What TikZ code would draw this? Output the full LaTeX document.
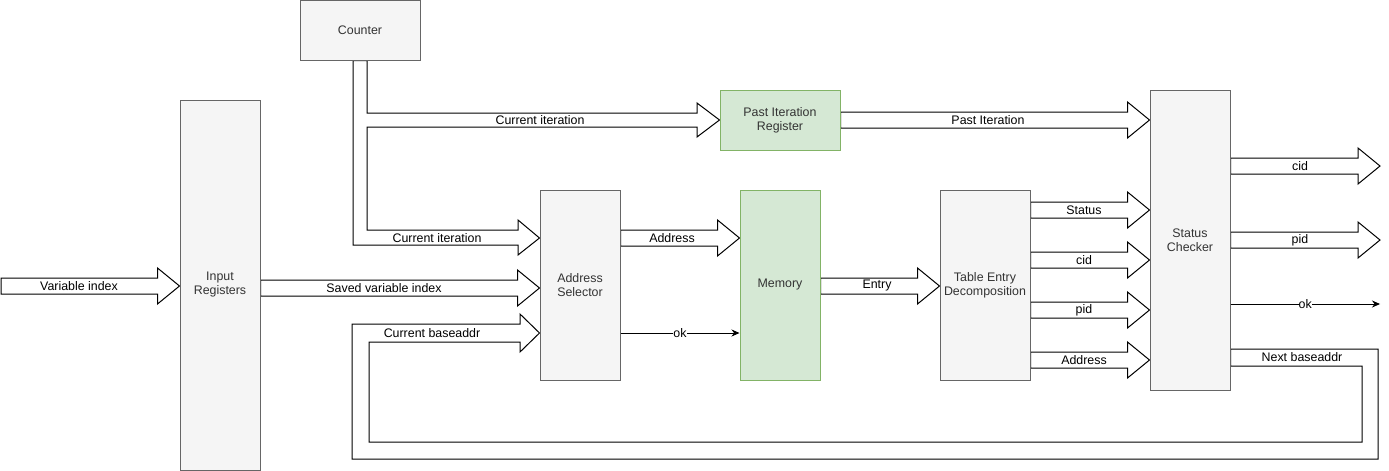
\documentclass[tikz,border=0pt]{standalone}
\usepackage{fontspec}
\setmainfont{Liberation Sans}
\usetikzlibrary{calc,arrows.meta}
\definecolor{boxfill}{HTML}{F5F5F5}
\definecolor{boxline}{HTML}{666666}
\definecolor{gfill}{HTML}{D5E8D4}
\definecolor{gline}{HTML}{82B366}
\definecolor{txtc}{HTML}{333333}
\pgfdeclarelayer{bg}
\pgfsetlayers{bg,main}
% #1 start, #2 tip, #3 label, #4 label x
\newcommand\fatarr[4]{%
  \draw[fatline] let \p1=#1, \p2=#2 in
    (\x1,\y2+8pt) -- (\x2-22pt,\y2+8pt) -- (\x2-22pt,\y2+18pt) -- (\x2,\y2)
    -- (\x2-22pt,\y2-18pt) -- (\x2-22pt,\y2-8pt) -- (\x1,\y2-8pt) -- cycle;
  \path let \p2=#2 in node[lbl] at (#4pt,\y2) {#3};
}
\begin{document}
\begin{tikzpicture}[x=1pt,y=-1pt,
  block/.style={draw=boxline,fill=boxfill,line width=1pt,text=txtc,align=center,
    font=\fontsize{12.4}{14}\selectfont,inner sep=0pt},
  gblock/.style={block,draw=gline,fill=gfill},
  fatline/.style={draw=black,fill=white,line width=1pt,line join=miter},
  lbl/.style={font=\fontsize{12.4}{14}\selectfont,inner sep=0pt,text=black},
  thinarr/.style={draw=black,line width=1pt,-{Stealth[length=8pt,width=7pt]}}]
\useasboundingbox (0,0) rectangle (1389,471);

% blocks
\node[block,minimum width=120pt,minimum height=60pt] (ctr) at (360,30) {Counter};
\node[block,minimum width=80pt,minimum height=370pt] (ir) at (220,285) {Input\\Registers};
\node[block,minimum width=80pt,minimum height=190pt] (as) at (580,285) {Address\\Selector};
\node[gblock,minimum width=80pt,minimum height=190pt] (mem) at (780,285) {Memory};
\node[block,minimum width=90pt,minimum height=190pt] (ted) at (985,285) {Table Entry\\Decomposition};
\node[block,minimum width=80pt,minimum height=300pt] (sc) at (1190,240) {Status\\Checker};
\node[gblock,minimum width=120pt,minimum height=60pt] (pir) at (780,120) {Past Iteration\\Register};

\coordinate (vin) at (1,286);
\coordinate (cidout) at (1380,166);
\coordinate (pidout) at (1380,240);
\coordinate (okout) at (1380,304);

\begin{pgfonlayer}{bg}
\fatarr{(vin)}{(ir.west |- 0,286)}{Variable index}{79}
\fatarr{(ir.east)}{(as.west |- 0,288)}{Saved variable index}{384}
\fatarr{(as.east)}{(mem.west |- 0,238)}{Address}{672}
\fatarr{(mem.east)}{(ted.west |- 0,286)}{Entry}{877}
\fatarr{(pir.east)}{(sc.west |- 0,120)}{Past Iteration}{988}
\fatarr{(ted.east)}{(sc.west |- 0,210)}{Status}{1084}
\fatarr{(ted.east)}{(sc.west |- 0,260)}{cid}{1084}
\fatarr{(ted.east)}{(sc.west |- 0,310)}{pid}{1084}
\fatarr{(ted.east)}{(sc.west |- 0,360)}{Address}{1084}
\fatarr{(sc.east)}{(cidout)}{cid}{1300}
\fatarr{(sc.east)}{(pidout)}{pid}{1300}

% counter split arrow
\draw[fatline] (ctr.south -| 353,0) -- (353,245) -- (518,245) -- (518,255)
  -- (as.west |- 0,238) -- (518,220) -- (518,230) -- (367,230) -- (367,127)
  -- (697,127) -- (697,137) -- (pir.west |- 0,120) -- (697,103) -- (697,113)
  -- (367,113) -- (ctr.south -| 367,0) -- cycle;

% baseaddr feedback arrow
\draw[fatline] (sc.east |- 0,349) -- (1378,349) -- (1378,459) -- (352,459)
  -- (352,324) -- (520,324) -- (520,314) -- (as.west |- 0,333) -- (520,352)
  -- (520,342) -- (369,342) -- (369,442) -- (1362,442) -- (1362,366)
  -- (sc.east |- 0,366) -- cycle;
\end{pgfonlayer}

\node[lbl] at (540,120) {Current iteration};
\node[lbl] at (437,238) {Current iteration};
\node[lbl] at (1302,357) {Next baseaddr};
\node[lbl] at (432,333) {Current baseaddr};

\draw[thinarr] (as.east |- 0,333) -- node[lbl,fill=white] {ok} (mem.west |- 0,333);
\draw[thinarr] (sc.east |- 0,304) -- node[lbl,fill=white] {ok} (okout);
\end{tikzpicture}
\end{document}
